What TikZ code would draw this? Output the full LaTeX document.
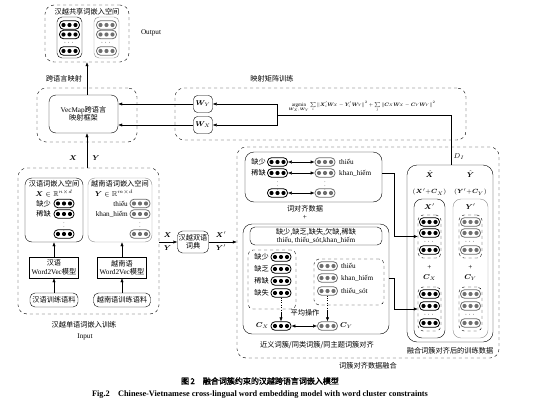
\documentclass[tikz,border=0pt]{standalone}
\usepackage{amsmath}
\usepackage{amssymb}
\usepackage{bm}
\usepackage{fontspec}
\setmainfont{Liberation Serif}
\newfontfamily\cjk{Noto Sans CJK SC}
\newfontfamily\cjkbf[FakeBold=2]{Noto Sans CJK SC}
\usetikzlibrary{fit,arrows.meta,calc}
\definecolor{vi}{HTML}{6E6E6E}
\definecolor{viline}{HTML}{8C8C8C}
\newcommand\zh[1]{{\cjk #1}}
\newcommand\smallvdots{{\fontsize{5}{5}\selectfont$\vdots$}}
% one embedding vector: a pill with three dots
\newcommand\vecpill[3]{%
  \node[pill,draw=#3] (#1) at (#2) {};
  \foreach \px in {-6,0,6}
    \fill[#3] ([xshift=\px pt]#1.center) circle (2.1pt);
}

\begin{document}
\begin{tikzpicture}[x=1pt,y=-1pt,
  every node/.style={font=\fontsize{7.2}{8.4}\selectfont,inner sep=1pt},
  dbox/.style={draw,dashed,rounded corners=9pt,inner sep=0pt},
  sbox/.style={draw,rounded corners=7pt,inner sep=0pt},
  gbox/.style={draw=viline,rounded corners=7pt,inner sep=0pt},
  cbox/.style={draw,dashed,rounded corners=5pt,inner sep=0pt},
  pill/.style={line width=0.8pt,rounded corners=4pt,minimum width=20pt,minimum height=8.5pt,inner sep=0pt},
  arr/.style={-{Latex[length=4pt,width=3.2pt]}},
  darr/.style={{Latex[length=4pt,width=3.2pt]}-{Latex[length=4pt,width=3.2pt]}}]
\useasboundingbox (0,0) rectangle (538,404);

% shared output space
\path (45,5) coordinate (Otl) (129,62) coordinate (Obr);
\node[dbox,fit=(Otl) (Obr)] (Out) {};
\node (OutT) at (87,12) {\zh{汉越共享词嵌入空间}};
\path (57,17) coordinate (OLtl) (82,58) coordinate (OLbr)
      (94,17) coordinate (ORtl) (119,58) coordinate (ORbr);
\node[sbox,rounded corners=5pt,fit=(OLtl) (OLbr)] (OutL) {};
\node[gbox,rounded corners=5pt,fit=(ORtl) (ORbr)] (OutR) {};
\vecpill{ox1}{69.5,25}{black}
\vecpill{ox2}{69.5,34.5}{black}
\node[inner sep=0pt] (oxd) at (69.5,42.5) {$\cdots$};
\vecpill{ox3}{69.5,51}{black}
\vecpill{oy1}{106.5,25}{vi}
\vecpill{oy2}{106.5,34.5}{vi}
\node[inner sep=0pt] (oyd) at (106.5,42.5) {$\cdots$};
\vecpill{oy3}{106.5,51}{vi}
\node (OutLbl) at (151,33) {Output};

% VecMap
\path (37,88) coordinate (Vtl) (137,142) coordinate (Vbr);
\node[dbox,fit=(Vtl) (Vbr)] (VMo) {};
\node[sbox,minimum width=69,minimum height=38,align=center] (VM) at (83.5,114)
  {VecMap\zh{跨语言}\\\zh{映射框架}};
\draw[arr] (Out.south |- VM.north) -- (Out.south);
\node (CrossLbl) at (64,79) {\zh{跨语言映射}};

% mapping matrix training
\path (175,88) coordinate (Mtl) (466,140) coordinate (Mbr);
\node[dbox,fit=(Mtl) (Mbr)] (Map) {};
\node (MapLbl) at (272,79) {\zh{映射矩阵训练}};
\node[sbox,rounded corners=4pt,minimum width=19,minimum height=17] (WY) at (203,104) {$\bm W_Y$};
\node[sbox,rounded corners=4pt,minimum width=19,minimum height=17] (WX) at (203,125) {$\bm W_X$};
\draw[arr] (WY) -- (WY -| VM.east);
\draw[arr] (WX) -- (WX -| VM.east);
\node[anchor=base,inner sep=0pt] (Loss) at (362,106)
  {\scalebox{0.7}{$\mathop{\mathrm{argmin}}\limits_{\bm W_X,\bm W_Y}\sum\limits_i\|\bm X'_i\bm W_X-\bm Y'_i\bm W_Y\|^2+\sum\limits_j\|\bm C_X\bm W_X-\bm C_Y\bm W_Y\|^2$}};
\coordinate (J) at (277,115);
\draw[arr] (J) |- (WY);
\draw[arr] (J) |- (WX);

% monolingual input
\path (18,168) coordinate (Itl) (159,314) coordinate (Ibr);
\node[dbox,fit=(Itl) (Ibr)] (In) {};
\node (InLbl) at (84,325) {\zh{汉越单语词嵌入训练}};
\node (InputLbl) at (85,337) {Input};
\draw[arr] (Out.south |- In.north) -- (Out.south |- VM.south);
\node (XLbl) at (73,158) {$\bm X$};
\node (YLbl) at (96,158) {$\bm Y$};

\path (25,178) coordinate (ZHtl) (83,242) coordinate (ZHbr);
\node[sbox,fit=(ZHtl) (ZHbr)] (ZHemb) {};
\node (ZHt) at (54,184) {\zh{汉语词嵌入空间}};
\node (ZHm) at (54,194) {$\bm X\in\mathbb{R}^{n\times d}$};
\node[anchor=east] (zw1) at (52,203.5) {\zh{缺少}};
\vecpill{zx1}{64,203.5}{black}
\node[anchor=east] (zw2) at (52,214) {\zh{稀缺}};
\vecpill{zx2}{64,214}{black}
\node[inner sep=0pt] (zxd) at (64,224) {\smallvdots};
\vecpill{zx3}{64,234}{black}

\path (88,178) coordinate (VItl) (152,242) coordinate (VIbr);
\node[gbox,fit=(VItl) (VIbr)] (VIemb) {};
\node (VIt) at (120,184) {\zh{越南语词嵌入空间}};
\node (VIm) at (114,194) {$\bm Y\in\mathbb{R}^{m\times d}$};
\node[anchor=east] (vw1) at (129,203.5) {thiếu};
\vecpill{vy1}{140,203.5}{vi}
\node[anchor=east] (vw2) at (129,214) {khan\_hiếm};
\vecpill{vy2}{140,214}{vi}
\node[inner sep=0pt] (vyd) at (140,224) {\smallvdots};
\vecpill{vy3}{140,234}{vi}

\node[draw,minimum width=49,minimum height=21,align=center] (ZHw2v) at (54,267.5) {\zh{汉语}\\Word2Vec\zh{模型}};
\node[draw,minimum width=49,minimum height=21,align=center] (VIw2v) at (122,267.5) {\zh{越南语}\\Word2Vec\zh{模型}};
\node[draw,rounded corners=5pt,minimum width=48,minimum height=14] (ZHcor) at (54,300) {\zh{汉语训练语料}};
\node[draw,rounded corners=5pt,minimum width=57,minimum height=14] (VIcor) at (122,300) {\zh{越南语训练语料}};
\draw[arr] (ZHcor) -- (ZHw2v);
\draw[arr] (VIcor) -- (VIw2v);
\draw[arr] (ZHw2v) -- (ZHw2v |- ZHemb.south);
\draw[arr] (VIw2v) -- (VIw2v |- VIemb.south);

% bilingual dictionary
\node[sbox,rounded corners=5pt,minimum width=31,minimum height=22,align=center] (Dict) at (193,242)
  {\zh{汉越双语}\\\zh{词典}};
\draw[arr] (In.east |- Dict) -- (Dict);
\node (XdLbl) at (167.5,235) {$\bm X$};
\node (YdLbl) at (167.5,248) {$\bm Y$};

% word cluster alignment fusion
\path (237,147) coordinate (Ftl) (499,358) coordinate (Fbr);
\node[dbox,fit=(Ftl) (Fbr)] (Fuse) {};
\node (FuseLbl) at (368,366) {\zh{词簇对齐数据融合}};
\draw[arr] (Dict) -- (Dict -| Fuse.west);
\node (XpLbl) at (221,235) {$\bm X'$};
\node (YpLbl) at (221,248) {$\bm Y'$};

% word alignment data
\path (245,152) coordinate (WAtl) (382,202) coordinate (WAbr);
\node[sbox,rounded corners=9pt,fit=(WAtl) (WAbr)] (WA) {};
\node[anchor=east] (ww1) at (267,162) {\zh{缺少}};
\vecpill{wa1}{277.5,162}{black}
\vecpill{wb1}{325,162}{vi}
\node[anchor=west] (wv1) at (338,162) {thiếu};
\node[anchor=east] (ww2) at (267,173) {\zh{稀缺}};
\vecpill{wa2}{277.5,173}{black}
\vecpill{wb2}{325,173}{vi}
\node[anchor=west] (wv2) at (338,173) {khan\_hiếm};
\node[inner sep=0pt] (wad) at (277.5,183) {\smallvdots};
\node[inner sep=0pt] (wbd) at (325,183) {\smallvdots};
\vecpill{wa3}{277.5,193}{black}
\vecpill{wb3}{325,193}{vi}
\draw[darr] (wa1) -- (wb1);
\draw[darr] (wa2) -- (wb2);
\draw[darr] (wa3) -- (wb3);
\node (WALbl) at (305,209) {\zh{词对齐数据}};
\node (WAplus) at (305,217) {+};

% word cluster alignment
\path (243,224) coordinate (CLtl) (389,334) coordinate (CLbr);
\node[sbox,rounded corners=9pt,fit=(CLtl) (CLbr)] (CL) {};
\node[sbox,rounded corners=5pt,minimum width=132,minimum height=18,align=center] (Syn) at (316,236)
  {\zh{缺少,缺乏,缺失,欠缺,稀缺}\\thiếu, thiếu\_sót,khan\_hiếm};
\path (248,250) coordinate (LCtl) (296,309) coordinate (LCbr);
\node[cbox,fit=(LCtl) (LCbr)] (LC) {};
\foreach \w/\yy [count=\i] in {缺少/257,缺乏/269,稀缺/281,缺失/293} {
  \node[anchor=east] (lw\i) at (270,\yy) {\zh{\w}};
  \vecpill{lc\i}{281,\yy}{black}
}
\path (314,259) coordinate (RCtl) (384,305) coordinate (RCbr);
\node[cbox,fit=(RCtl) (RCbr)] (RC) {};
\foreach \w/\yy [count=\i] in {thiếu/266,khan\_hiếm/278,thiếu\_sót/291} {
  \vecpill{rc\i}{327.5,\yy}{vi}
  \node[anchor=west] (rw\i) at (340,\yy) {\w};
}
\vecpill{CX}{281,326}{black}
\vecpill{CY}{327.5,326}{vi}
\node[anchor=east] (CXLbl) at (270,326) {$\bm C_X$};
\node[anchor=west] (CYLbl) at (339,326) {$\bm C_Y$};
\draw[darr] (CX) -- (CY);
\draw[dotted] (lc4.south) -- ++(0,14) coordinate (lcd);
\draw[arr] (lcd) -- (CX.north);
\draw[dotted] (rc3.south) -- ++(0,14) coordinate (rcd);
\draw[arr] (rcd) -- (CY.north);
\node (AvgLbl) at (305,313) {\zh{平均操作}};
\node (CLLbl) at (317,345) {\zh{近义词簇/同类词簇/同主题词簇对齐}};

% fused training data
\path (407,165) coordinate (Dtl) (493,342) coordinate (Dbr);
\node[sbox,rounded corners=10pt,fit=(Dtl) (Dbr)] (Fus) {};
\node (FusLbl) at (450,351) {\zh{融合词簇对齐后的训练数据}};
\node[inner sep=0pt] (Xhat) at (429.5,174) {$\hat{\bm X}$};
\node[inner sep=0pt,font=\fontsize{6.5}{7}\selectfont] (Xsum) at (429.5,192) {$(\bm X'{+}\bm C_X)$};
\node[inner sep=0pt] (Yhat) at (470.5,174) {$\hat{\bm Y}$};
\node[inner sep=0pt,font=\fontsize{6.5}{7}\selectfont] (Ysum) at (470.5,192) {$(\bm Y'{+}\bm C_Y)$};
\path (414,199) coordinate (FXtl) (445,338) coordinate (FXbr)
      (453,199) coordinate (FYtl) (488,338) coordinate (FYbr);
\node[sbox,rounded corners=8pt,fit=(FXtl) (FXbr)] (FX) {};
\node[gbox,rounded corners=8pt,fit=(FYtl) (FYbr)] (FY) {};
\foreach \cx/\col/\nm/\tp/\cc in {429.5/black/X/{\bm X'}/{\bm C_X},470.5/vi/Y/{\bm Y'}/{\bm C_Y}} {
  \node (\nm top) at (\cx,207) {$\tp$};
  \path (\cx-11.5,215) coordinate (\nm a) (\cx+11.5,258) coordinate (\nm b)
        (\cx-11.5,287) coordinate (\nm c) (\cx+11.5,331) coordinate (\nm d);
  \node[cbox,fit=(\nm a) (\nm b)] (\nm 1) {};
  \node[cbox,fit=(\nm c) (\nm d)] (\nm 2) {};
  \vecpill{\nm p1}{\cx,222}{\col}
  \vecpill{\nm p2}{\cx,233}{\col}
  \node[inner sep=0pt] (\nm pd) at (\cx,241.5) {$\cdots$};
  \vecpill{\nm p3}{\cx,250}{\col}
  \node (\nm plus) at (\cx,267) {+};
  \node (\nm cl) at (\cx,278) {$\cc$};
  \vecpill{\nm q1}{\cx,294}{\col}
  \vecpill{\nm q2}{\cx,306}{\col}
  \node[inner sep=0pt] (\nm qd) at (\cx,314.5) {$\cdots$};
  \vecpill{\nm q3}{\cx,323}{\col}
}
\draw[arr] (WA.east |- wb2) -- (394,173) |- (X1.west);
\draw[arr] (CL.east |- rc2) -- (394,278) |- (X2.west);

% loss term linked to the fused data
\draw (J) -- (451,115) coordinate (Jr) -- (Jr |- Fus.north);
\node (DLbl) at (459,157) {$D_I$};

% caption
\node[font=\cjkbf\fontsize{8}{9}\selectfont] (Cap) at (260,381) {图\,2\quad 融合词簇约束的汉越跨语言词嵌入模型};
\node[font=\bfseries\fontsize{8.3}{9}\selectfont] (CapEn) at (260,395)
  {Fig.2\quad Chinese-Vietnamese cross-lingual word embedding model with word cluster constraints};
\end{tikzpicture}
\end{document}
